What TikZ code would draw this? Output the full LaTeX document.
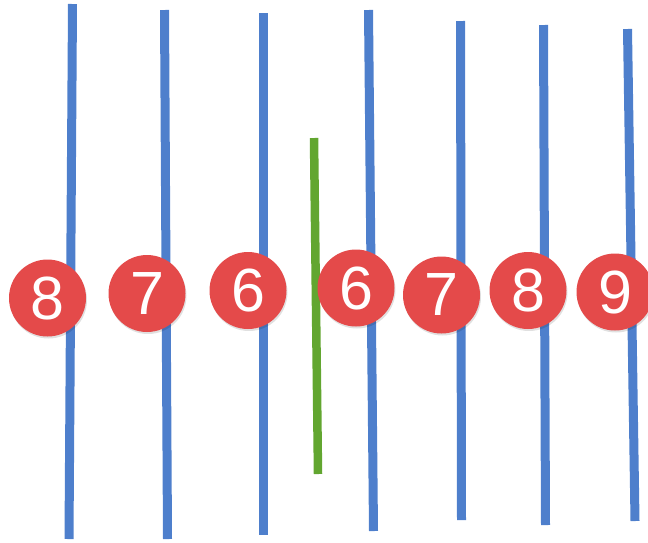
\documentclass[tikz,border=0pt]{standalone}
\usepackage{fontspec}
\setmainfont{Liberation Sans}
\definecolor{lineblue}{HTML}{4E7FCC}
\definecolor{linegreen}{HTML}{62A630}
\definecolor{ballred}{HTML}{E44A4A}
\begin{document}
\begin{tikzpicture}[x=1pt,y=-1pt,
  bar/.style={draw=lineblue,line width=9pt},
  gbar/.style={draw=linegreen,line width=8.5pt},
  ball/.style={circle,fill=ballred,minimum size=77pt,inner sep=0pt,text=white,
    font=\fontsize{61}{61}\selectfont},
  shade/.style={circle,fill=black,opacity=0.12,minimum size=77pt,inner sep=0pt}]
\useasboundingbox (0,0) rectangle (648,542);
% blue lines
\coordinate (t1) at (72.5,4);   \coordinate (b1) at (69,539);
\coordinate (t2) at (164.5,10); \coordinate (b2) at (167.5,539);
\coordinate (t3) at (263.5,13); \coordinate (b3) at (263.5,535);
\coordinate (t4) at (368.5,10); \coordinate (b4) at (373.5,531);
\coordinate (t5) at (460.5,21); \coordinate (b5) at (461.5,520);
\coordinate (t6) at (543.5,25); \coordinate (b6) at (545.5,525);
\coordinate (t7) at (627.5,29); \coordinate (b7) at (635,521);
\foreach \i in {1,...,7} {\draw[bar] (t\i) -- (b\i);}
% green line
\coordinate (gt) at (314,138);
\coordinate (gb) at (318,474);
\draw[gbar] (gt) -- (gb);
% shadows
\foreach \x/\y in {47.5/298,147/293.5,248/290.5,356/288,441.5/295,528/290.5,615/292}
  {\node[shade] at (\x+1,\y+2) {};}
% balls
\node[ball] (n1) at (47.5,298) {8};
\node[ball] (n2) at (147,293.5) {7};
\node[ball] (n3) at (248,290.5) {6};
\node[ball] (n4) at (356,288) {6};
\node[ball] (n5) at (441.5,295) {7};
\node[ball] (n6) at (528,290.5) {8};
\node[ball] (n7) at (615,292) {9};
\end{tikzpicture}
\end{document}
